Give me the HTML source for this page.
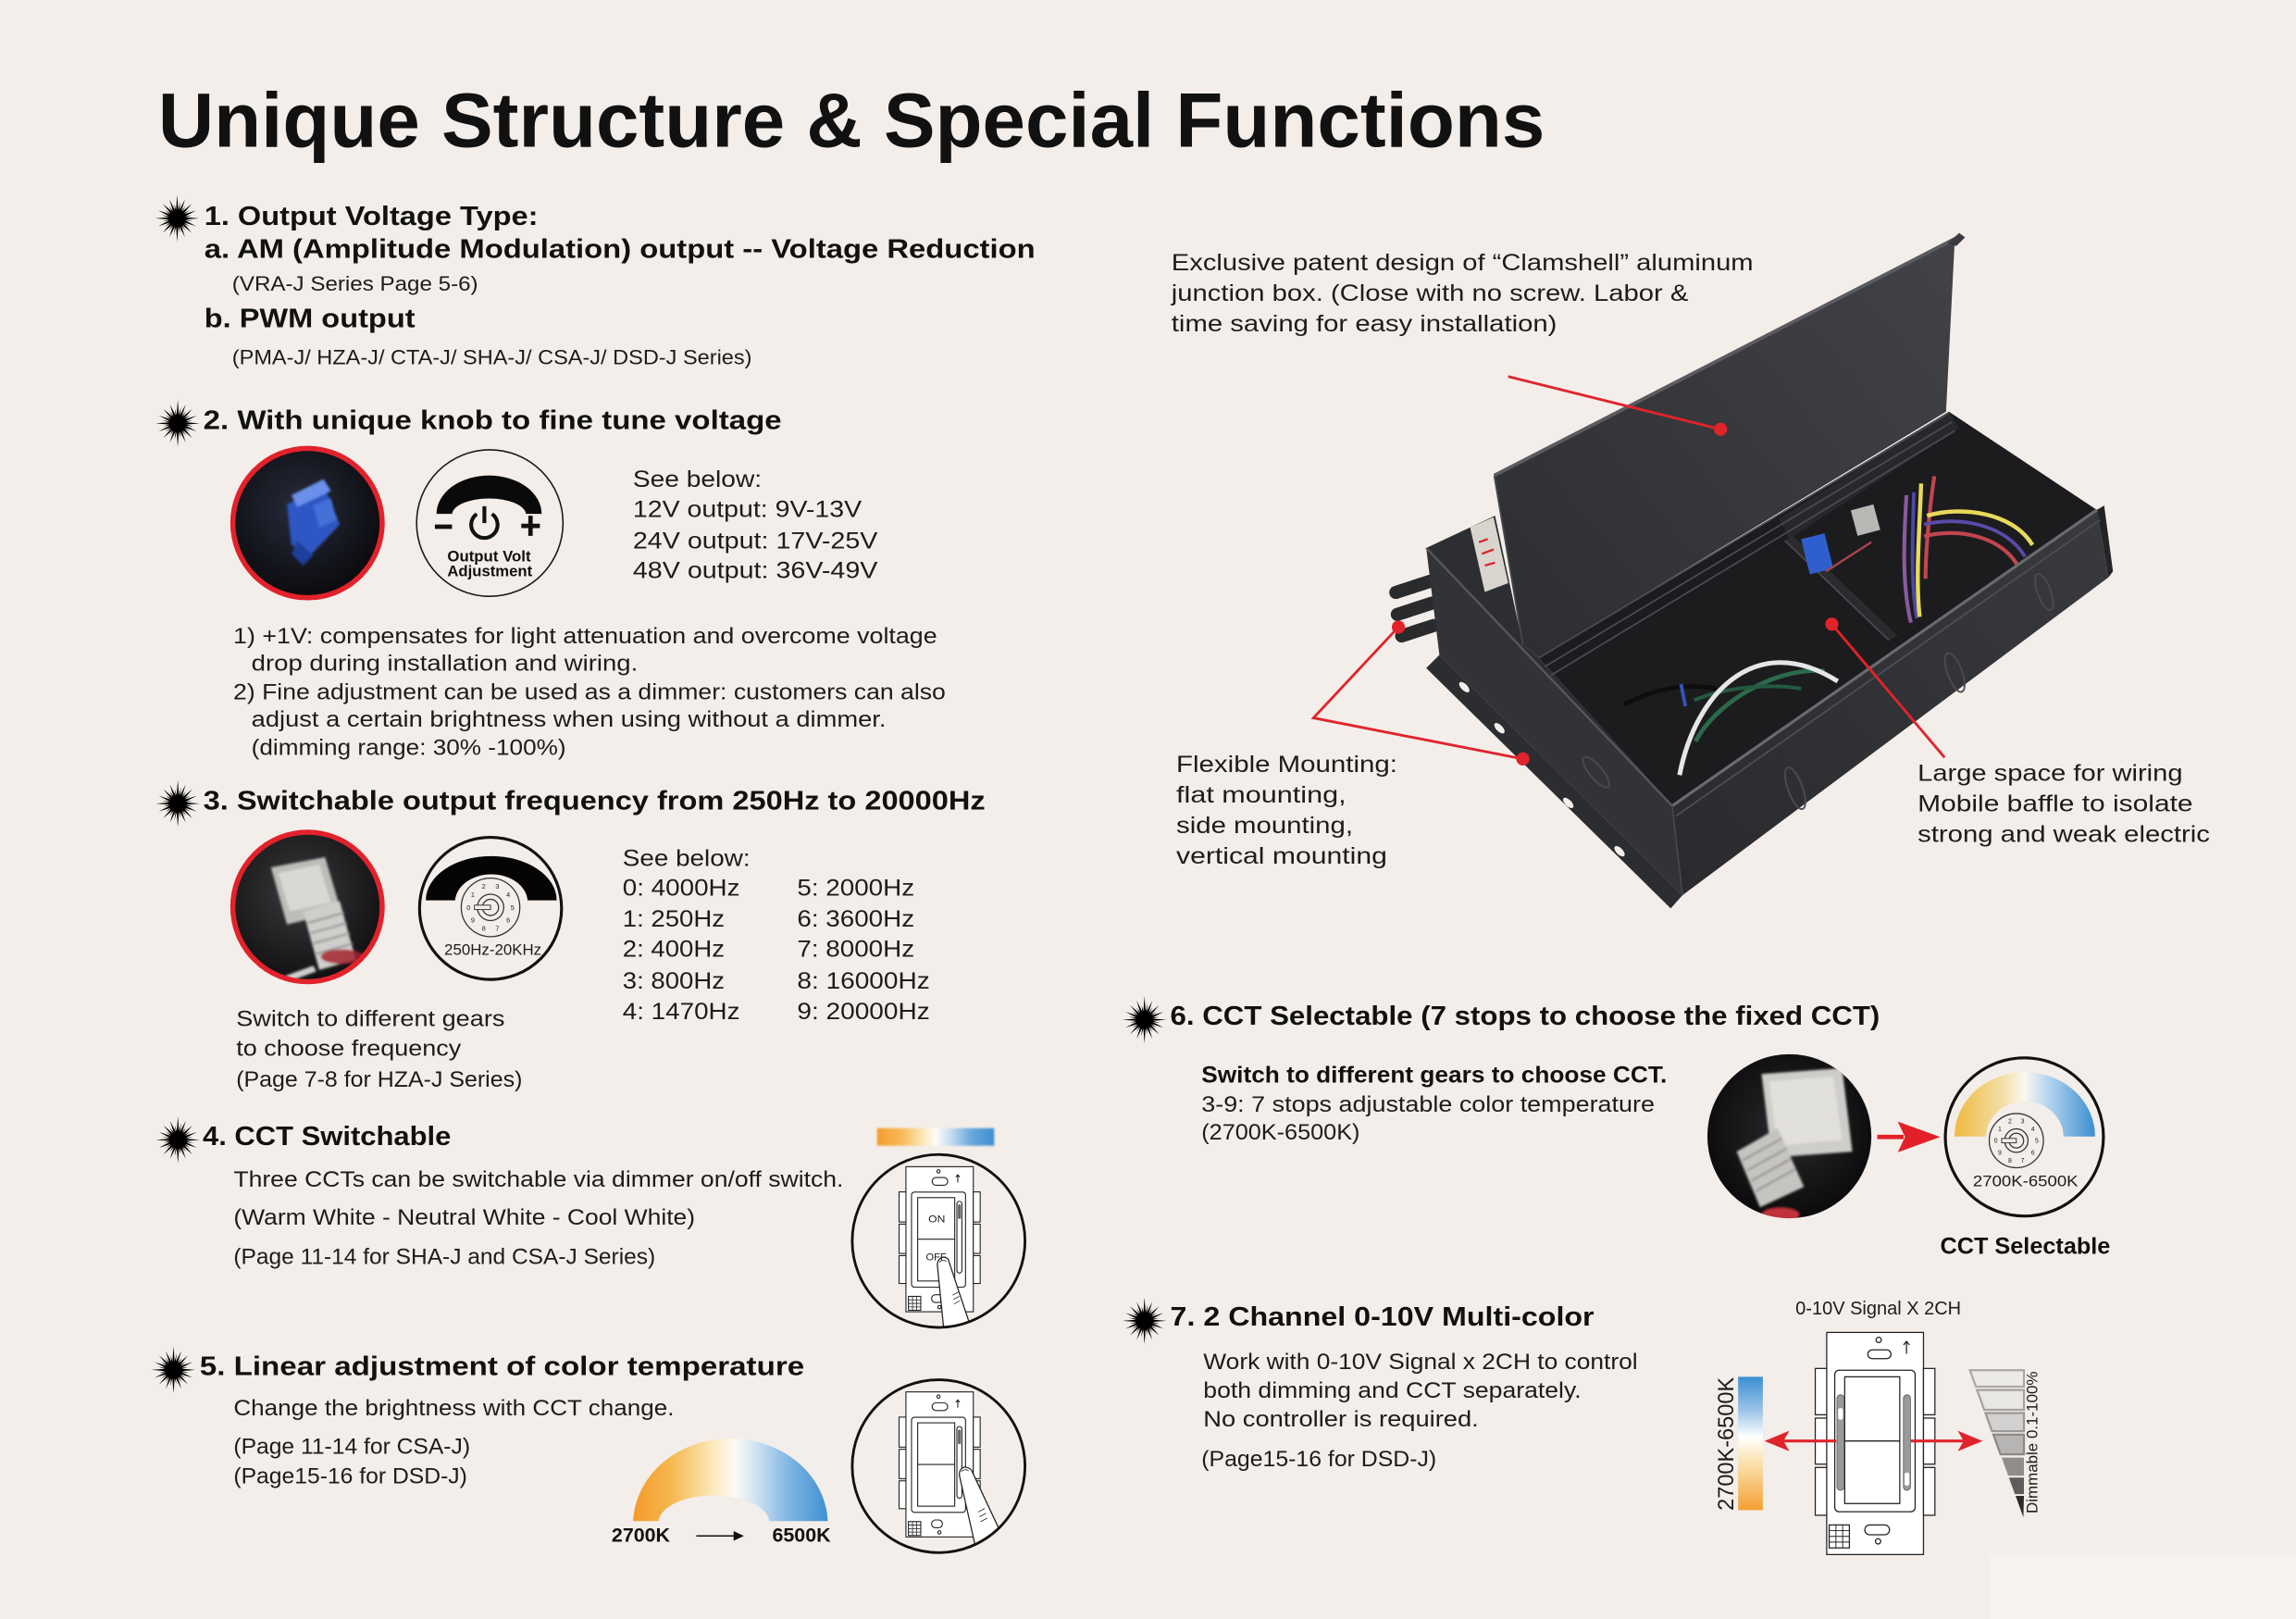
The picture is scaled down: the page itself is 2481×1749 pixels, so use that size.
<!DOCTYPE html>
<html><head><meta charset="utf-8">
<style>
html,body{margin:0;padding:0;background:#f3eee9;overflow:hidden;}
svg{display:block;}
text{font-family:"Liberation Sans",Arial,sans-serif;fill:#1c1c1c;}
.b{font-weight:bold;fill:#111;}
</style></head><body>
<svg width="2481" height="1749" viewBox="0 0 1568 1105" preserveAspectRatio="none" xmlns="http://www.w3.org/2000/svg">
<defs>
 <g id="star">
  <polygon points="0,-16 0.878,-4.414 5.358,-12.934 2.5,-3.742 9.899,-9.899 3.742,-2.5 12.934,-5.358 4.414,-0.878 15,0 4.414,0.878 12.934,5.358 3.742,2.5 9.899,9.899 2.5,3.742 5.358,12.934 0.878,4.414 0,16 -0.878,4.414 -5.358,12.934 -2.5,3.742 -9.899,9.899 -3.742,2.5 -12.934,5.358 -4.414,0.878 -15,0 -4.414,-0.878 -12.934,-5.358 -3.742,-2.5 -9.899,-9.899 -2.5,-3.742 -5.358,-12.934 -0.878,-4.414" fill="#000"/>
  <polygon points="0,-16 0.878,-4.414 5.358,-12.934 2.5,-3.742 9.899,-9.899 3.742,-2.5 12.934,-5.358 4.414,-0.878 15,0 4.414,0.878 12.934,5.358 3.742,2.5 9.899,9.899 2.5,3.742 5.358,12.934 0.878,4.414 0,16 -0.878,4.414 -5.358,12.934 -2.5,3.742 -9.899,9.899 -3.742,2.5 -12.934,5.358 -4.414,0.878 -15,0 -4.414,-0.878 -12.934,-5.358 -3.742,-2.5 -9.899,-9.899 -2.5,-3.742 -5.358,-12.934 -0.878,-4.414" fill="#000" transform="rotate(11.25) scale(0.72)"/>
  <circle r="5" fill="#000"/>
 </g>
 <linearGradient id="g4" x1="0" y1="0" x2="1" y2="0">
  <stop offset="0" stop-color="#f49a2c"/><stop offset="0.22" stop-color="#f7bd5a"/><stop offset="0.4" stop-color="#fbe9bd"/><stop offset="0.5" stop-color="#fffdf6"/><stop offset="0.62" stop-color="#c9def1"/><stop offset="0.8" stop-color="#6aa9dc"/><stop offset="1" stop-color="#3d8fd1"/>
 </linearGradient>
 <linearGradient id="g5" gradientUnits="userSpaceOnUse" x1="432" y1="0" x2="566" y2="0">
  <stop offset="0" stop-color="#f39a2a"/><stop offset="0.2" stop-color="#f6b851"/><stop offset="0.4" stop-color="#fbe7b4"/><stop offset="0.52" stop-color="#fdfbf4"/><stop offset="0.63" stop-color="#cfe2f2"/><stop offset="0.8" stop-color="#7fb5e2"/><stop offset="1" stop-color="#3e8fd2"/>
 </linearGradient>
 <linearGradient id="g6" gradientUnits="userSpaceOnUse" x1="1334" y1="0" x2="1431" y2="0">
  <stop offset="0" stop-color="#f0b93c"/><stop offset="0.35" stop-color="#f3dfa8"/><stop offset="0.5" stop-color="#fbf8f0"/><stop offset="0.66" stop-color="#b8d6ee"/><stop offset="1" stop-color="#3a8fd0"/>
 </linearGradient>
 <linearGradient id="g7" x1="0" y1="0" x2="0" y2="1">
  <stop offset="0" stop-color="#3b8fd3"/><stop offset="0.25" stop-color="#9cc4e8"/><stop offset="0.45" stop-color="#ffffff"/><stop offset="0.62" stop-color="#fbe6b8"/><stop offset="1" stop-color="#f4a032"/>
 </linearGradient>
 <linearGradient id="lidg" gradientUnits="userSpaceOnUse" x1="1030" y1="420" x2="1330" y2="180">
  <stop offset="0" stop-color="#2e2f32"/><stop offset="1" stop-color="#414246"/>
 </linearGradient>
 <linearGradient id="frontg" gradientUnits="userSpaceOnUse" x1="1145" y1="600" x2="1435" y2="370">
  <stop offset="0" stop-color="#2a2b2e"/><stop offset="1" stop-color="#38393c"/>
 </linearGradient>
 <radialGradient id="p2" cx="0.45" cy="0.4" r="0.6">
  <stop offset="0" stop-color="#272b3b"/><stop offset="1" stop-color="#0b0b0e"/>
 </radialGradient>
 <radialGradient id="p3" cx="0.45" cy="0.4" r="0.6">
  <stop offset="0" stop-color="#3a3a3d"/><stop offset="1" stop-color="#111113"/>
 </radialGradient>
 <radialGradient id="p6" cx="0.5" cy="0.45" r="0.6">
  <stop offset="0" stop-color="#2a2a2c"/><stop offset="1" stop-color="#080809"/>
 </radialGradient>
 <filter id="bl" x="-20%" y="-20%" width="140%" height="140%"><feGaussianBlur stdDeviation="0.9"/></filter>
 <filter id="bl2" x="-20%" y="-50%" width="140%" height="200%"><feGaussianBlur stdDeviation="0.6"/></filter>
 <clipPath id="c2"><circle cx="210" cy="357" r="50"/></clipPath>
 <clipPath id="c3"><circle cx="210" cy="619" r="50"/></clipPath>
 <clipPath id="c6"><circle cx="1222" cy="775.5" r="56"/></clipPath>
 <clipPath id="c4"><circle cx="641" cy="847" r="58.3"/></clipPath>
 <clipPath id="c5"><circle cx="641" cy="1000.7" r="58.3"/></clipPath>
 <g id="swbase" stroke="#222" stroke-width="0.7" fill="#fff">
  <rect x="618.7" y="796.3" width="46" height="99"/>
  <rect x="614" y="813.5" width="4.7" height="20.5"/>
  <rect x="614" y="835.5" width="4.7" height="20"/>
  <rect x="614" y="857" width="4.7" height="19"/>
  <rect x="664.7" y="813.5" width="4.7" height="20.5"/>
  <rect x="664.7" y="835.5" width="4.7" height="20"/>
  <rect x="664.7" y="857" width="4.7" height="19"/>
  <rect x="622.5" y="813.6" width="36.9" height="64.9" rx="2"/>
  <rect x="626.7" y="817.4" width="25.3" height="56.9"/>
  <line x1="626.7" y1="845.8" x2="652" y2="845.8"/>
  <rect x="653.5" y="819.9" width="3.4" height="49" rx="1.7"/>
  <rect x="654.2" y="822" width="2" height="10" rx="1" fill="#666" stroke="none"/>
  <circle cx="640.9" cy="799.5" r="1.1"/>
  <rect x="636.6" y="803.7" width="10.6" height="5.3" rx="2.6"/>
  <path d="M654.1,807 V802 M652.8,803.4 L654.1,801.8 L655.4,803.4" fill="none"/>
  <rect x="620.4" y="884.8" width="8.4" height="9.5"/>
  <path d="M623.2,884.8 V894.3 M626,884.8 V894.3 M620.4,887.2 H628.8 M620.4,889.6 H628.8 M620.4,892 H628.8" fill="none" stroke-width="0.5"/>
  <rect x="636.2" y="883.7" width="7.4" height="5.3" rx="2.6"/>
  <circle cx="641.5" cy="892.2" r="1.1"/>
 </g>
</defs>

<rect width="1568" height="1105" fill="#f3eee9"/>
<rect x="1359" y="1062" width="209" height="43" fill="#f6f3ef"/>

<!-- Title -->
<text class="b" x="108" y="100" font-size="53" textLength="947" lengthAdjust="spacingAndGlyphs">Unique Structure &amp; Special Functions</text>

<!-- Stars -->
<use href="#star" x="121" y="149"/>
<use href="#star" x="121.4" y="289"/>
<use href="#star" x="121.4" y="548.5"/>
<use href="#star" x="121.5" y="778"/>
<use href="#star" x="118.5" y="935"/>
<use href="#star" x="781.6" y="696"/>
<use href="#star" x="781.6" y="901.5"/>

<!-- Section 1 -->
<text class="b" x="139.5" y="153.4" font-size="18" textLength="228" lengthAdjust="spacingAndGlyphs">1. Output Voltage Type:</text>
<text class="b" x="139.5" y="176" font-size="18" textLength="567.5" lengthAdjust="spacingAndGlyphs">a. AM (Amplitude Modulation) output -- Voltage Reduction</text>
<text x="158.5" y="198.5" font-size="14" textLength="168" lengthAdjust="spacingAndGlyphs">(VRA-J Series Page 5-6)</text>
<text class="b" x="139.5" y="223.3" font-size="18" textLength="144" lengthAdjust="spacingAndGlyphs">b. PWM output</text>
<text x="158.5" y="248.6" font-size="14" textLength="355" lengthAdjust="spacingAndGlyphs">(PMA-J/ HZA-J/ CTA-J/ SHA-J/ CSA-J/ DSD-J Series)</text>

<!-- Section 2 -->
<text class="b" x="138.8" y="292.8" font-size="18" textLength="395" lengthAdjust="spacingAndGlyphs">2. With unique knob to fine tune voltage</text>
<circle cx="210" cy="357" r="51" fill="url(#p2)"/>
<g clip-path="url(#c2)" filter="url(#bl)">
 <polygon points="196,344 222,333 232,358 213,378 199,372" fill="#2f56c4"/>
 <polygon points="199,338 221,327 226,335 203,346" fill="#6a90ec"/>
 <polygon points="203,369 214,379 207,386 199,378" fill="#1f3f9c"/>
 <polygon points="214,345 226,340 230,355 218,360" fill="#4470d8"/>
</g>
<circle cx="210" cy="357" r="51" fill="none" stroke="#e2222b" stroke-width="3.5"/>
<circle cx="334.5" cy="357" r="50" fill="none" stroke="#1a1a1a" stroke-width="1"/>
<path d="M298.1,350.7 A35.9,26.2 0 0 1 369.9,350.7 L359.2,350.7 A25.3,11.2 0 0 0 308.7,350.7 Z" fill="#0a0a0a"/>
<path d="M297,359.5 H308.7" stroke="#111" stroke-width="3"/>
<path d="M356,358.9 H368.7 M362.3,352 V365.7" stroke="#111" stroke-width="3"/>
<path d="M325.6,350.8 A9,9 0 1 0 336,350.8" fill="none" stroke="#111" stroke-width="2.6"/>
<path d="M330.8,345.5 V357" stroke="#111" stroke-width="2.6"/>
<text class="b" x="305.5" y="383.2" font-size="10.5" textLength="57" lengthAdjust="spacingAndGlyphs">Output Volt</text>
<text class="b" x="305.5" y="393.2" font-size="10.5" textLength="58" lengthAdjust="spacingAndGlyphs">Adjustment</text>
<text x="432.2" y="332.4" font-size="16" textLength="88" lengthAdjust="spacingAndGlyphs">See below:</text>
<text x="432.2" y="352.8" font-size="16" textLength="156.3" lengthAdjust="spacingAndGlyphs">12V output: 9V-13V</text>
<text x="432.2" y="374.3" font-size="16" textLength="167.2" lengthAdjust="spacingAndGlyphs">24V output: 17V-25V</text>
<text x="432.2" y="394.6" font-size="16" textLength="167.2" lengthAdjust="spacingAndGlyphs">48V output: 36V-49V</text>
<text x="159.3" y="439.2" font-size="15" textLength="480.7" lengthAdjust="spacingAndGlyphs">1) +1V: compensates for light attenuation and overcome voltage</text>
<text x="171.7" y="457.6" font-size="15" textLength="263.9" lengthAdjust="spacingAndGlyphs">drop during installation and wiring.</text>
<text x="159.3" y="477.2" font-size="15" textLength="486.5" lengthAdjust="spacingAndGlyphs">2) Fine adjustment can be used as a dimmer: customers can also</text>
<text x="171.7" y="496.1" font-size="15" textLength="433.4" lengthAdjust="spacingAndGlyphs">adjust a certain brightness when using without a dimmer.</text>
<text x="171.7" y="515.1" font-size="15" textLength="214.8" lengthAdjust="spacingAndGlyphs">(dimming range: 30% -100%)</text>

<!-- Section 3 -->
<text class="b" x="138.8" y="552.4" font-size="18" textLength="534.1" lengthAdjust="spacingAndGlyphs">3. Switchable output frequency from 250Hz to 20000Hz</text>
<circle cx="210" cy="619" r="51" fill="url(#p3)"/>
<g clip-path="url(#c3)" filter="url(#bl)">
 <polygon points="185,592 222,585 233,622 196,631" fill="#bdbcb8"/>
 <polygon points="190,596 218,590 226,616 198,622" fill="#d9d8d4"/>
 <polygon points="207,622 232,615 243,655 218,662" fill="#cfcecb"/>
 <path d="M210,630 L235,623 M212,637 L237,630 M214,644 L239,637 M216,651 L241,644" stroke="#8f8e8b" stroke-width="1.2"/>
 <ellipse cx="234" cy="653" rx="15" ry="5" fill="#a3222d" opacity="0.85"/>
 <polygon points="195,666 214,659 216,663 197,670" fill="#cfcfcf"/>
</g>
<circle cx="210" cy="619" r="51" fill="none" stroke="#e2222b" stroke-width="3.5"/>
<circle cx="335" cy="620" r="48.5" fill="none" stroke="#111" stroke-width="2"/>
<path d="M290.8,614.5 A44.7,30.2 0 0 1 380.2,614.5 L360.3,614.5 A24.8,19 0 0 0 310.8,614.5 Z" fill="#050505"/>
<circle cx="335" cy="619.3" r="20" fill="#f3eee9" stroke="#333" stroke-width="0.8"/>
<circle cx="335" cy="619.3" r="9" fill="none" stroke="#333" stroke-width="0.8"/>
<circle cx="335" cy="619.3" r="5.5" fill="none" stroke="#333" stroke-width="0.8"/>
<rect x="324" y="617.8" width="11" height="3" fill="#f3eee9" stroke="#333" stroke-width="0.6"/>
<g font-size="4.6" text-anchor="middle" fill="#333">
 <text x="320" y="620.9">0</text><text x="322.9" y="612.1">1</text><text x="330.4" y="606.6">2</text><text x="339.6" y="606.6">3</text><text x="347.1" y="612.1">4</text>
 <text x="350" y="620.9">5</text><text x="347.1" y="629.7">6</text><text x="339.6" y="635.2">7</text><text x="330.4" y="635.2">8</text><text x="322.9" y="629.7">9</text>
</g>
<text x="303.4" y="651.8" font-size="10.5" textLength="66.4" lengthAdjust="spacingAndGlyphs" fill="#333">250Hz-20KHz</text>
<text x="425.2" y="591" font-size="16" textLength="87.1" lengthAdjust="spacingAndGlyphs">See below:</text>
<text x="425.2" y="611.4" font-size="16" textLength="80.1" lengthAdjust="spacingAndGlyphs">0: 4000Hz</text>
<text x="425.2" y="632.5" font-size="16" textLength="69.7" lengthAdjust="spacingAndGlyphs">1: 250Hz</text>
<text x="425.2" y="653.1" font-size="16" textLength="69.7" lengthAdjust="spacingAndGlyphs">2: 400Hz</text>
<text x="425.2" y="674.6" font-size="16" textLength="69.7" lengthAdjust="spacingAndGlyphs">3: 800Hz</text>
<text x="425.2" y="695.7" font-size="16" textLength="80.1" lengthAdjust="spacingAndGlyphs">4: 1470Hz</text>
<text x="544.4" y="611.4" font-size="16" textLength="80.1" lengthAdjust="spacingAndGlyphs">5: 2000Hz</text>
<text x="544.4" y="632.5" font-size="16" textLength="80.1" lengthAdjust="spacingAndGlyphs">6: 3600Hz</text>
<text x="544.4" y="653.1" font-size="16" textLength="80.1" lengthAdjust="spacingAndGlyphs">7: 8000Hz</text>
<text x="544.4" y="674.6" font-size="16" textLength="90.6" lengthAdjust="spacingAndGlyphs">8: 16000Hz</text>
<text x="544.4" y="695.7" font-size="16" textLength="90.6" lengthAdjust="spacingAndGlyphs">9: 20000Hz</text>
<text x="161.3" y="700.5" font-size="15" textLength="183.4" lengthAdjust="spacingAndGlyphs">Switch to different gears</text>
<text x="161.3" y="720.6" font-size="15" textLength="153.6" lengthAdjust="spacingAndGlyphs">to choose frequency</text>
<text x="161.3" y="741.6" font-size="15" textLength="195.4" lengthAdjust="spacingAndGlyphs">(Page 7-8 for HZA-J Series)</text>

<!-- Section 4 -->
<text class="b" x="138.4" y="781.6" font-size="18" textLength="169.6" lengthAdjust="spacingAndGlyphs">4. CCT Switchable</text>
<text x="159.5" y="810" font-size="15" textLength="416.5" lengthAdjust="spacingAndGlyphs">Three CCTs can be switchable via dimmer on/off switch.</text>
<text x="159.5" y="836" font-size="15" textLength="315.2" lengthAdjust="spacingAndGlyphs">(Warm White - Neutral White - Cool White)</text>
<text x="159.5" y="862.7" font-size="15" textLength="288.1" lengthAdjust="spacingAndGlyphs">(Page 11-14 for SHA-J and CSA-J Series)</text>
<rect x="599" y="770" width="80" height="12" fill="url(#g4)" filter="url(#bl2)"/>
<g clip-path="url(#c4)">
 <use href="#swbase"/>
 <path d="M640.2,864 C639.8,859.5 643,857.6 645.5,858.2 C647.2,858.6 648,860 648.2,861.5 L662,903 L662,912 L645,912 Z" fill="#fff" stroke="#222" stroke-width="0.8"/>
 <path d="M641.6,861.6 C642.6,859.9 645,859.7 646.3,861.1" fill="none" stroke="#222" stroke-width="0.5"/>
 <path d="M650.5,884 l4,-2.2 M651,887 l4,-2.2 M651.5,890 l4,-2.2" stroke="#222" stroke-width="0.5"/>
</g>
<text x="634" y="834.2" font-size="7" fill="#333" textLength="11.5" lengthAdjust="spacingAndGlyphs">ON</text>
<text x="632.3" y="860.3" font-size="7" fill="#333" textLength="14" lengthAdjust="spacingAndGlyphs">OFF</text>
<circle cx="641" cy="847" r="59" fill="none" stroke="#111" stroke-width="1.8"/>

<!-- Section 5 -->
<text class="b" x="136.4" y="938.6" font-size="18" textLength="412.9" lengthAdjust="spacingAndGlyphs">5. Linear adjustment of color temperature</text>
<text x="159.5" y="966" font-size="15" textLength="300.9" lengthAdjust="spacingAndGlyphs">Change the brightness with CCT change.</text>
<text x="159.5" y="992.3" font-size="15" textLength="161.6" lengthAdjust="spacingAndGlyphs">(Page 11-14 for CSA-J)</text>
<text x="159.5" y="1012.3" font-size="15" textLength="159.6" lengthAdjust="spacingAndGlyphs">(Page15-16 for DSD-J)</text>
<path d="M432.4,1038.2 A66.5,58.7 0 0 1 565.3,1038.2 L525.4,1038.2 A38,19 0 0 0 449.6,1038.2 Z" fill="url(#g5)"/>
<text class="b" x="417.7" y="1052.3" font-size="13.5" textLength="39.9" lengthAdjust="spacingAndGlyphs">2700K</text>
<text class="b" x="527.4" y="1052.3" font-size="13.5" textLength="39.9" lengthAdjust="spacingAndGlyphs">6500K</text>
<path d="M475.5,1048.3 H502" stroke="#111" stroke-width="1"/>
<polygon points="501,1045 508,1048.3 501,1051.6" fill="#111"/>
<g clip-path="url(#c5)">
 <use href="#swbase" y="153.7"/>
 <path d="M655.2,1007 C654.8,1003 657.5,1001 660,1001.5 C662,1002 663.4,1003 663.8,1004.2 L690,1060 L668,1064 Z" fill="#fff" stroke="#222" stroke-width="0.8"/>
 <path d="M656.5,1004.6 C657.5,1002.8 660,1002.6 661.5,1004" fill="none" stroke="#222" stroke-width="0.5"/>
 <path d="M668,1032 l4.5,-2.4 M668.8,1035.3 l4.5,-2.4 M669.6,1038.6 l4.5,-2.4" stroke="#222" stroke-width="0.5"/>
</g>
<circle cx="641" cy="1000.7" r="59" fill="none" stroke="#111" stroke-width="1.8"/>

<!-- Box image -->
<g>
 <g fill="#2a2b2d">
  <rect x="948" y="396" width="34" height="9" rx="4.5" transform="rotate(-18 965 400)"/>
  <rect x="949" y="411" width="34" height="9" rx="4.5" transform="rotate(-18 966 415)"/>
  <rect x="952" y="426" width="32" height="9" rx="4.5" transform="rotate(-18 968 430)"/>
 </g>
 <polygon points="983,447 1149,611 1141,620 974,456" fill="#2c2d30"/>
 <g fill="#f3eee9">
  <ellipse cx="1000" cy="469" rx="4.5" ry="2.2" transform="rotate(45 1000 469)"/>
  <ellipse cx="1024" cy="497" rx="4.5" ry="2.2" transform="rotate(45 1024 497)"/>
  <ellipse cx="1071" cy="548" rx="4.5" ry="2.2" transform="rotate(45 1071 548)"/>
  <ellipse cx="1106" cy="581" rx="4.5" ry="2.2" transform="rotate(45 1106 581)"/>
 </g>
 <polygon points="974,374 1142,550 1149,611 983,447" fill="#323336"/>
 <polygon points="974,374 1021,352 1040,440 1051,449 1142,550" fill="#2d2e31"/>
 <polygon points="1004,360 1020,353 1030,398 1014,404" fill="#d9d4ce"/>
 <path d="M1010,370 l6,-2 M1012,378 l8,-3 M1014,386 l7,-2" stroke="#d22" stroke-width="1.4"/>
 <polygon points="1020.5,324.5 1335,163 1329,281 1051,449 1040,440" fill="url(#lidg)"/>
 <line x1="1020.5" y1="324.5" x2="1335" y2="163" stroke="#5a5b5f" stroke-width="2.4"/>
 <line x1="1020.5" y1="324.5" x2="1040" y2="440" stroke="#45464a" stroke-width="1.2"/>
 <path d="M1330,166 L1338,159 L1342,162 L1336,168 Z" fill="#3a3b3e"/>
 <polygon points="1051,449 1331,281 1432,348 1142,550" fill="#1c1c1f"/>
 <polygon points="1215,354 1331,281 1338,292 1222,368" fill="#27282b"/>
 <g stroke="#4b4c50" stroke-width="1.1">
  <line x1="1051" y1="449" x2="1331" y2="282"/>
  <line x1="1055" y1="455" x2="1333" y2="288"/>
  <line x1="1059" y1="461" x2="1335" y2="294"/>
 </g>
 <polygon points="1219,369 1225,366 1296,434 1290,437" fill="#2b2b2e"/>
 <line x1="1219" y1="369" x2="1290" y2="437" stroke="#4e4f53" stroke-width="1"/>
 <!-- wires left -->
 <path d="M1109,481 C1130,470 1150,466 1172,470" stroke="#0d0d0d" stroke-width="3" fill="none"/>
 <path d="M1148,467 L1151,482" stroke="#3453b8" stroke-width="2.5"/>
 <path d="M1158,506 C1170,482 1210,455 1246,458" stroke="#2b6a4b" stroke-width="3" fill="none"/>
 <path d="M1157,478 C1175,470 1205,466 1230,470" stroke="#245a40" stroke-width="2.5" fill="none"/>
 <path d="M1147,529 C1158,472 1200,430 1255,465" stroke="#e6e6e6" stroke-width="3.2" fill="none"/>
 <!-- wires right -->
 <rect x="1266" y="346" width="16" height="18" fill="#b9b8b5" transform="rotate(-15 1274 355)"/>
 <polygon points="1230,368 1246,364 1252,388 1236,392" fill="#2f5fcf"/>
 <path d="M1247,390 L1278,370" stroke="#a8444c" stroke-width="1.5"/>
 <path d="M1302,338 C1300,370 1299,400 1305,425" stroke="#8a5aa0" stroke-width="2.6" fill="none"/>
 <path d="M1307,336 C1306,370 1305,398 1309,422" stroke="#4a48a8" stroke-width="2.4" fill="none"/>
 <path d="M1312,330 C1311,360 1308,395 1311,421" stroke="#e8d95a" stroke-width="2.8" fill="none"/>
 <path d="M1321,325 C1318,345 1315,375 1315,395" stroke="#c2454f" stroke-width="2.6" fill="none"/>
 <path d="M1316,352 C1340,345 1375,350 1388,372" stroke="#e8d95a" stroke-width="2.8" fill="none"/>
 <path d="M1314,358 C1338,352 1370,358 1383,380" stroke="#5a4aa8" stroke-width="2.4" fill="none"/>
 <path d="M1314,366 C1338,360 1366,366 1378,386" stroke="#c2454f" stroke-width="2.6" fill="none"/>
 <!-- front face -->
 <polygon points="1142,550 1432,348 1440,394 1149,611" fill="url(#frontg)"/>
 <polygon points="1432,348 1437,345 1443,390 1440,394" fill="#242427"/>
 <line x1="1142" y1="550" x2="1432" y2="348" stroke="#6a6b6f" stroke-width="2"/>
 <line x1="1144.5" y1="557" x2="1434" y2="355" stroke="#4c4d51" stroke-width="1.2"/>
 <line x1="974" y1="374" x2="1142" y2="550" stroke="#56575b" stroke-width="1.5"/>
 <line x1="1142" y1="550" x2="1149" y2="611" stroke="#48494d" stroke-width="1"/>
 <g fill="none" stroke="#4a4b4f" stroke-width="1.2">
  <ellipse cx="1226" cy="538" rx="5" ry="15" transform="rotate(-20 1226 538)"/>
  <ellipse cx="1335" cy="459" rx="5" ry="14" transform="rotate(-20 1335 459)"/>
  <ellipse cx="1396" cy="404" rx="4.5" ry="13" transform="rotate(-20 1396 404)"/>
  <ellipse cx="1090" cy="527" rx="4.5" ry="13" transform="rotate(-40 1090 527)"/>
 </g>
</g>
<!-- callouts -->
<g stroke="#e0242b" stroke-width="1.8" fill="none">
 <line x1="1030" y1="257" x2="1175" y2="293"/>
 <polyline points="955,428 897,490 1040,518"/>
 <line x1="1251" y1="426" x2="1328" y2="517"/>
</g>
<g fill="#e0242b">
 <circle cx="1175" cy="293" r="4.5"/>
 <circle cx="955" cy="428" r="4.5"/>
 <circle cx="1040" cy="518" r="4.5"/>
 <circle cx="1251" cy="426" r="4.5"/>
</g>
<text x="800" y="184.5" font-size="16" textLength="397.4" lengthAdjust="spacingAndGlyphs">Exclusive patent design of “Clamshell” aluminum</text>
<text x="800" y="205.4" font-size="16" textLength="353" lengthAdjust="spacingAndGlyphs">junction box. (Close with no screw. Labor &amp;</text>
<text x="800" y="226.3" font-size="16" textLength="263.3" lengthAdjust="spacingAndGlyphs">time saving for easy installation)</text>
<text x="803.3" y="527" font-size="16" textLength="151" lengthAdjust="spacingAndGlyphs">Flexible Mounting:</text>
<text x="803.3" y="547.8" font-size="16" textLength="116" lengthAdjust="spacingAndGlyphs">flat mounting,</text>
<text x="803.3" y="568.7" font-size="16" textLength="120.7" lengthAdjust="spacingAndGlyphs">side mounting,</text>
<text x="803.3" y="589.6" font-size="16" textLength="144" lengthAdjust="spacingAndGlyphs">vertical mounting</text>
<text x="1309.6" y="532.9" font-size="16" textLength="181" lengthAdjust="spacingAndGlyphs">Large space for wiring</text>
<text x="1309.6" y="553.8" font-size="16" textLength="188" lengthAdjust="spacingAndGlyphs">Mobile baffle to isolate</text>
<text x="1309.6" y="574.7" font-size="16" textLength="199.6" lengthAdjust="spacingAndGlyphs">strong and weak electric</text>

<!-- Section 6 -->
<text class="b" x="799.2" y="699.4" font-size="18" textLength="484.6" lengthAdjust="spacingAndGlyphs">6. CCT Selectable (7 stops to choose the fixed CCT)</text>
<text class="b" x="820.5" y="739" font-size="15.5" textLength="317.9" lengthAdjust="spacingAndGlyphs">Switch to different gears to choose CCT.</text>
<text x="820.5" y="758.8" font-size="15" textLength="309.5" lengthAdjust="spacingAndGlyphs">3-9: 7 stops adjustable color temperature</text>
<text x="820.5" y="777.8" font-size="15" textLength="108.2" lengthAdjust="spacingAndGlyphs">(2700K-6500K)</text>
<circle cx="1222" cy="775.5" r="56" fill="url(#p6)"/>
<g clip-path="url(#c6)" filter="url(#bl)">
 <polygon points="1203,733 1258,729 1265,786 1210,790" fill="#cfcdc9"/>
 <polygon points="1208,738 1252,735 1258,778 1214,782" fill="#e2e0dc"/>
 <polygon points="1186,786 1214,770 1232,810 1202,824" fill="#c6c4c0"/>
 <path d="M1190,792 L1217,777 M1193,799 L1220,784 M1196,806 L1223,791 M1199,813 L1226,798" stroke="#8e8c89" stroke-width="1.2"/>
 <ellipse cx="1216" cy="829" rx="13" ry="5" fill="#c23038"/>
</g>
<path d="M1282,776 H1300" stroke="#e3202a" stroke-width="3"/>
<polygon points="1296,765.5 1325,776 1296,786.5 1301,776" fill="#e3202a"/>
<circle cx="1382.5" cy="776" r="54" fill="none" stroke="#111" stroke-width="2"/>
<path d="M1334.8,775.7 A48,44 0 0 1 1430.8,775.7 L1409.2,775.7 A26.4,24 0 0 0 1356.4,775.7 Z" fill="url(#g6)"/>
<circle cx="1377" cy="778.5" r="18.5" fill="#f3eee9" stroke="#333" stroke-width="0.8"/>
<circle cx="1377" cy="778.5" r="8" fill="none" stroke="#333" stroke-width="0.8"/>
<circle cx="1377" cy="778.5" r="5" fill="none" stroke="#333" stroke-width="0.8"/>
<rect x="1367" y="777" width="10" height="3" fill="#f3eee9" stroke="#333" stroke-width="0.6"/>
<g font-size="4.4" text-anchor="middle" fill="#333">
 <text x="1363" y="780.1">0</text><text x="1365.7" y="771.9">1</text><text x="1372.7" y="766.8">2</text><text x="1381.3" y="766.8">3</text><text x="1388.3" y="771.9">4</text>
 <text x="1391" y="780.1">5</text><text x="1388.3" y="788.3">6</text><text x="1381.3" y="793.4">7</text><text x="1372.7" y="793.4">8</text><text x="1365.7" y="788.3">9</text>
</g>
<text x="1347.4" y="809.8" font-size="10.5" textLength="71.8" lengthAdjust="spacingAndGlyphs" fill="#444">2700K-6500K</text>
<text class="b" x="1325" y="855.7" font-size="16" textLength="116.2" lengthAdjust="spacingAndGlyphs">CCT Selectable</text>

<!-- Section 7 -->
<text class="b" x="799.2" y="904.8" font-size="18" textLength="289.5" lengthAdjust="spacingAndGlyphs">7. 2 Channel 0-10V Multi-color</text>
<text x="821.8" y="934.3" font-size="15" textLength="296.6" lengthAdjust="spacingAndGlyphs">Work with 0-10V Signal x 2CH to control</text>
<text x="821.8" y="953.9" font-size="15" textLength="258.1" lengthAdjust="spacingAndGlyphs">both dimming and CCT separately.</text>
<text x="821.8" y="973.7" font-size="15" textLength="188" lengthAdjust="spacingAndGlyphs">No controller is required.</text>
<text x="820.5" y="1000.6" font-size="15" textLength="160.5" lengthAdjust="spacingAndGlyphs">(Page15-16 for DSD-J)</text>
<text x="1226.2" y="897" font-size="13" textLength="113.1" lengthAdjust="spacingAndGlyphs" fill="#333">0-10V Signal X 2CH</text>
<g stroke="#222" stroke-width="0.8" fill="#fff">
 <rect x="1247.5" y="909.4" width="66.1" height="151.6"/>
 <rect x="1239.7" y="934" width="7.8" height="31.6"/>
 <rect x="1239.7" y="967.9" width="7.8" height="31.4"/>
 <rect x="1239.7" y="1001.6" width="7.8" height="32.6"/>
 <rect x="1313.6" y="934" width="7.8" height="31.6"/>
 <rect x="1313.6" y="967.9" width="7.8" height="31.4"/>
 <rect x="1313.6" y="1001.6" width="7.8" height="32.6"/>
 <rect x="1253" y="935.2" width="54.9" height="96.6" rx="3"/>
 <rect x="1259.8" y="939.7" width="37.6" height="86.5"/>
 <line x1="1259.8" y1="983.5" x2="1297.4" y2="983.5"/>
 <rect x="1254.5" y="952" width="4.9" height="65.2" rx="2.4" fill="#9a9a9a" stroke="#555" stroke-width="0.5"/>
 <rect x="1299.9" y="952" width="4.8" height="65.2" rx="2.4" fill="#9a9a9a" stroke="#555" stroke-width="0.5"/>
 <circle cx="1283" cy="914.5" r="1.8"/>
 <rect x="1275.6" y="921.3" width="15.8" height="6" rx="3"/>
 <path d="M1302,924 V915.5 M1300,918 L1302,915.5 L1304,918" fill="none"/>
 <rect x="1249.2" y="1040.8" width="13.8" height="15.7"/>
 <path d="M1253.8,1040.8 V1056.5 M1258.4,1040.8 V1056.5 M1249.2,1044.7 H1263 M1249.2,1048.6 H1263 M1249.2,1052.5 H1263" fill="none" stroke-width="0.6"/>
 <rect x="1273.5" y="1040.8" width="16.9" height="6.7" rx="3.3"/>
 <circle cx="1282.6" cy="1052" r="1.8"/>
</g>
<rect x="1255.3" y="961" width="3.3" height="8" rx="1.5" fill="#fff"/>
<rect x="1300.7" y="1005" width="3.2" height="9" rx="1.5" fill="#fff"/>
<rect x="1187" y="939.7" width="16.9" height="91" fill="url(#g7)"/>
<text transform="translate(1183.8,1031) rotate(-90)" x="0" y="0" font-size="15" textLength="91" lengthAdjust="spacingAndGlyphs" fill="#222">2700K-6500K</text>
<path d="M1218,983.5 H1254" stroke="#e0242b" stroke-width="2"/>
<polygon points="1205,983.5 1222,976.5 1218,983.5 1222,990.5" fill="#e0242b"/>
<path d="M1305,983.5 H1341" stroke="#e0242b" stroke-width="2"/>
<polygon points="1354,983.5 1337,976.5 1341,983.5 1337,990.5" fill="#e0242b"/>
<g stroke-width="1.4">
 <polygon points="1345.3,935.2 1382.2,935.2 1382.2,946.4 1349.4,946.4" fill="#eceae7" stroke="#aaa9a7"/>
 <polygon points="1350.2,948.7 1382.2,948.7 1382.2,962.2 1355.1,962.2" fill="#e9e7e4" stroke="#a3a2a0"/>
 <polygon points="1355.9,964.4 1382.2,964.4 1382.2,976.8 1360.4,976.8" fill="#d2d1cf" stroke="#999896"/>
 <polygon points="1361.3,979.1 1382.2,979.1 1382.2,992.6 1366.2,992.6" fill="#b6b5b3" stroke="#8a8988"/>
 <polygon points="1367,994.8 1382.2,994.8 1382.2,1007.2 1371.5,1007.2" fill="#8f8e8d" stroke="none"/>
 <polygon points="1371.9,1008.5 1382.2,1008.5 1382.2,1019.8 1376,1019.8" fill="#5e5d5d" stroke="none"/>
 <polygon points="1376.5,1021 1382.2,1021 1381.8,1035.6" fill="#2b2b2b" stroke="none"/>
</g>
<text transform="translate(1391.5,1033) rotate(-90)" x="0" y="0" font-size="10.5" textLength="97" lengthAdjust="spacingAndGlyphs" fill="#222">Dimmable 0.1-100%</text>
</svg>
</body></html>
